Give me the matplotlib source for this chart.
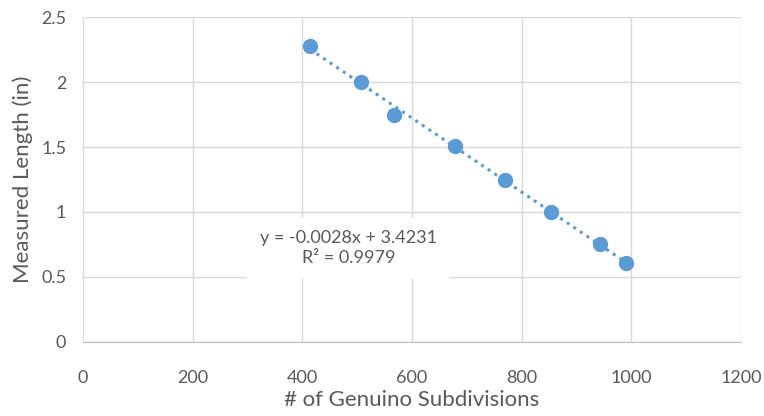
import numpy as np
import matplotlib.pyplot as plt

plt.rcParams['font.family'] = ['Lato', 'DejaVu Sans']

# 数据
subdivisions = np.array([414, 507, 567, 679, 770, 854, 942, 991])
length = np.array([2.28, 2.0, 1.75, 1.51, 1.25, 1.0, 0.75, 0.61])

x_ticks = [0, 200, 400, 600, 800, 1000, 1200]
y_ticks = [0, 0.5, 1, 1.5, 2, 2.5]

grey = "#595959"
blue = "#5B9BD5"

fig = plt.figure(figsize=(7.64, 4.16), dpi=100)
ax = fig.add_axes([0.1086, 0.178, 0.8614, 0.781])

# 线性拟合
slope, intercept = np.polyfit(subdivisions, length, 1)
fit_x = np.array([subdivisions.min(), subdivisions.max()])
ax.plot(fit_x, slope * fit_x + intercept, color=blue, linestyle=(0, (1, 1.6)),
        linewidth=2.2, zorder=2)

ax.plot(subdivisions, length, "o", color=blue, markersize=10, zorder=3)

ax.set_xlim(0, 1200)
ax.set_ylim(0, 2.5)
ax.set_xticks(x_ticks)
ax.set_yticks(y_ticks)
ax.set_yticklabels(["0", "0.5", "1", "1.5", "2", "2.5"])
ax.grid(True, color="#D9D9D9", linewidth=1)
ax.set_axisbelow(True)
for s in ["top", "right", "left"]:
    ax.spines[s].set_visible(False)
ax.spines["bottom"].set_color("#BFBFBF")
ax.tick_params(length=0, labelsize=13, labelcolor=grey)
ax.tick_params(axis="x", pad=20)
ax.tick_params(axis="y", pad=12)

ax.set_xlabel("# of Genuino Subdivisions", fontsize=16, color=grey, labelpad=3)
ax.set_ylabel("Measured Length (in)", fontsize=16, color=grey, labelpad=6)

ax.text(484, 0.72, "y = -0.0028x + 3.4231\nR² = 0.9979", fontsize=13, color=grey,
        ha="center", va="center", linespacing=1.3,
        bbox=dict(facecolor="white", edgecolor="none", pad=9))

fig.savefig("out.png", dpi=100)
